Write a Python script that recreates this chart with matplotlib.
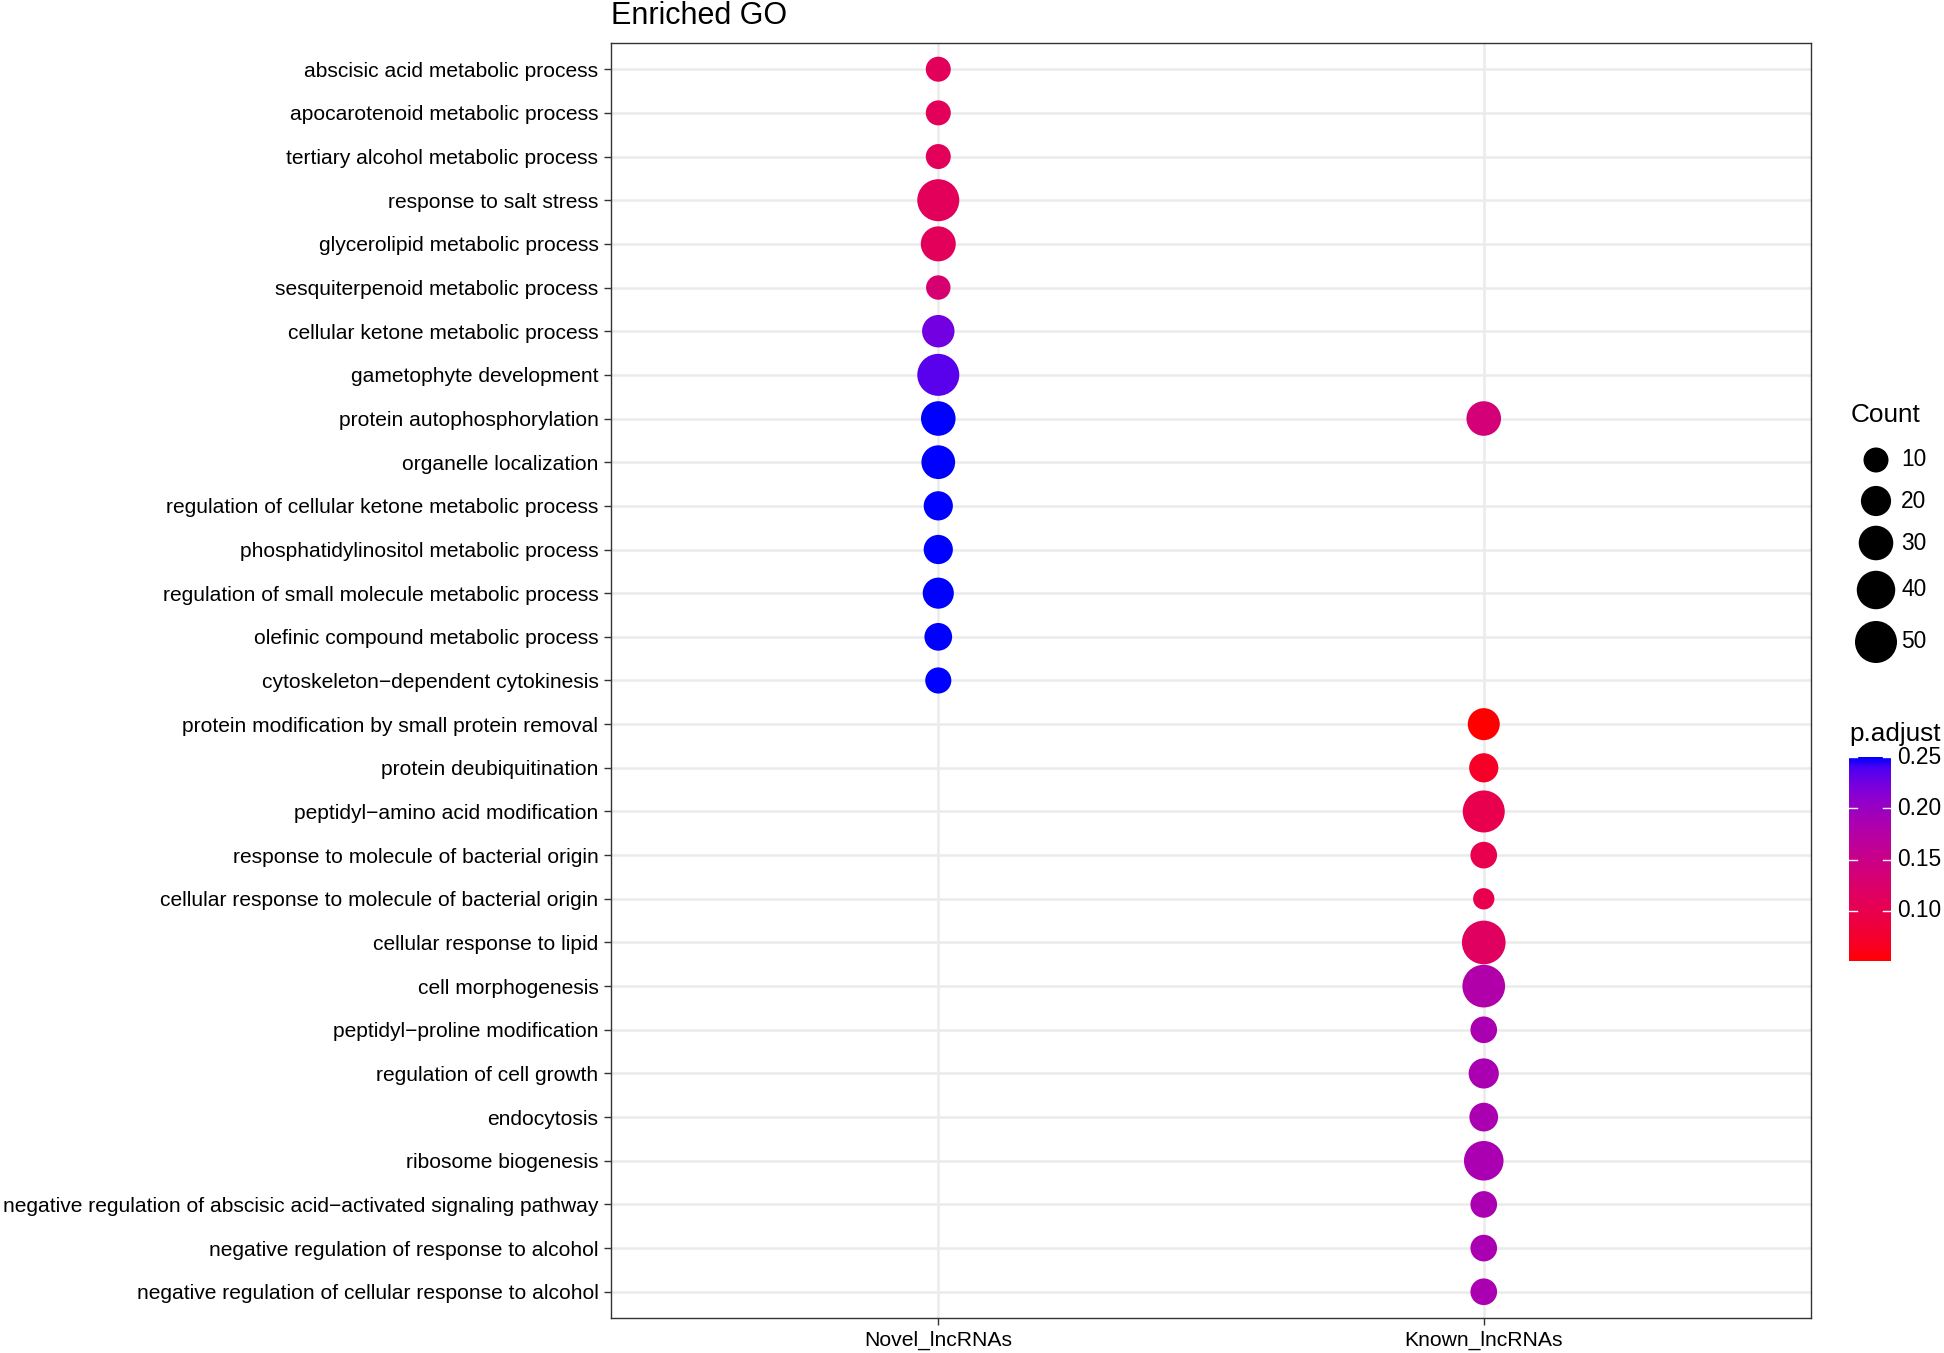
import numpy as np
import matplotlib.pyplot as plt
from matplotlib.colors import LinearSegmentedColormap, Normalize

plt.rcParams['font.family'] = ['Liberation Sans', 'DejaVu Sans']

terms = [
    'abscisic acid metabolic process',
    'apocarotenoid metabolic process',
    'tertiary alcohol metabolic process',
    'response to salt stress',
    'glycerolipid metabolic process',
    'sesquiterpenoid metabolic process',
    'cellular ketone metabolic process',
    'gametophyte development',
    'protein autophosphorylation',
    'organelle localization',
    'regulation of cellular ketone metabolic process',
    'phosphatidylinositol metabolic process',
    'regulation of small molecule metabolic process',
    'olefinic compound metabolic process',
    'cytoskeleton\u2212dependent cytokinesis',
    'protein modification by small protein removal',
    'protein deubiquitination',
    'peptidyl\u2212amino acid modification',
    'response to molecule of bacterial origin',
    'cellular response to molecule of bacterial origin',
    'cellular response to lipid',
    'cell morphogenesis',
    'peptidyl\u2212proline modification',
    'regulation of cell growth',
    'endocytosis',
    'ribosome biogenesis',
    'negative regulation of abscisic acid\u2212activated signaling pathway',
    'negative regulation of response to alcohol',
    'negative regulation of cellular response to alcohol',
]
groups = ['Novel_lncRNAs', 'Known_lncRNAs']

# Novel_lncRNAs: term index, Count, p.adjust
novel_terms = list(range(15))
novel_count = [10, 10, 10, 50, 31, 9, 25, 50, 30, 28, 18, 18, 22, 15, 12]
novel_padj = [0.11, 0.11, 0.11, 0.11, 0.11, 0.13, 0.225, 0.235,
              0.25, 0.25, 0.25, 0.25, 0.25, 0.25, 0.25]

# Known_lncRNAs
known_terms = [8] + list(range(15, 29))
known_count = [30, 24, 18, 50, 13, 4, 55, 52, 13, 20, 17, 43, 13, 13, 13]
known_padj = [0.135, 0.051, 0.07, 0.10, 0.10, 0.10, 0.115, 0.18,
              0.185, 0.185, 0.185, 0.185, 0.185, 0.185, 0.185]

legend_counts = [10, 20, 30, 40, 50]
cbar_ticks = [0.10, 0.15, 0.20, 0.25]


def lab_to_rgb(L, a, b):
    fy = (L + 16) / 116
    fx = fy + a / 500
    fz = fy - b / 200

    def finv(t):
        return t ** 3 if t > 6 / 29 else 3 * (6 / 29) ** 2 * (t - 4 / 29)
    xyz = np.array([0.95047 * finv(fx), finv(fy), 1.08883 * finv(fz)])
    m = np.array([[3.2406, -1.5372, -0.4986],
                  [-0.9689, 1.8758, 0.0415],
                  [0.0557, -0.2040, 1.0570]])
    lin = m @ xyz
    rgb = np.where(lin > 0.0031308, 1.055 * np.abs(lin) ** (1 / 2.4) - 0.055, 12.92 * lin)
    return np.clip(rgb, 0, 1)


# ggplot-style red -> blue gradient interpolated in Lab
red_lab = np.array([53.24, 80.09, 67.20])
blue_lab = np.array([32.30, 79.19, -107.86])
stops = [lab_to_rgb(*(red_lab + (blue_lab - red_lab) * f)) for f in np.linspace(0, 1, 21)]
cmap = LinearSegmentedColormap.from_list('rb', stops)
norm = Normalize(vmin=0.051, vmax=0.25)

px = 72 / 200  # points per pixel at dpi 200


def dot_size(c):
    d = np.sqrt(340 + 28.5 * np.asarray(c, dtype=float))
    return (d * px) ** 2


W, H = 1944, 1353
fig = plt.figure(figsize=(9.72, 6.765), dpi=200)
ax = fig.add_axes([0.3143, 0.0259, 0.6173, 0.9423])

n = len(terms)
yn = [n - 1 - i for i in novel_terms]
yk = [n - 1 - i for i in known_terms]
ax.scatter([0] * len(yn), yn, s=dot_size(novel_count), c=novel_padj, cmap=cmap, norm=norm,
           linewidths=0, zorder=3)
ax.scatter([1] * len(yk), yk, s=dot_size(known_count), c=known_padj, cmap=cmap, norm=norm,
           linewidths=0, zorder=3)

ax.set_xlim(-0.6, 1.6)
ax.set_ylim(-0.6, n - 0.4)
ax.set_xticks([0, 1])
ax.set_xticklabels(groups, fontsize=7.6)
ax.set_yticks(range(n))
ax.set_yticklabels(terms[::-1], fontsize=7.55)
ax.grid(True, color='#EBEBEB', linewidth=0.9, zorder=0)
ax.set_axisbelow(True)
for sp in ax.spines.values():
    sp.set_color('#333333')
    sp.set_linewidth(0.5)
ax.tick_params(length=2.5, width=0.5, color='#333333', pad=2)
fig.text(611 / W, 1 - 16 / H, 'Enriched GO', fontsize=11, va='center', ha='left')

# size legend
lax = fig.add_axes([0, 0, 1, 1], facecolor='none')
lax.set_xlim(0, W)
lax.set_ylim(H, 0)
lax.axis('off')
fig.text(1851 / W, 1 - 415 / H, 'Count', fontsize=9.4, va='center', ha='left')
leg_y = [460, 501, 543, 590, 642]
lax.scatter([1876] * 5, leg_y, s=dot_size(legend_counts), color='black', linewidths=0)
for c, y in zip(legend_counts, leg_y):
    lax.text(1901, y, str(c), fontsize=8.2, va='center', ha='left')

# colour bar
fig.text(1849 / W, 1 - 734 / H, 'p.adjust', fontsize=9.4, va='center', ha='left')
cax = fig.add_axes([1849 / W, 1 - 961 / H, 42 / W, 204 / H])
grad = np.linspace(norm.vmin, norm.vmax, 256).reshape(-1, 1)
cax.imshow(grad, aspect='auto', cmap=cmap, norm=norm, origin='lower',
           extent=[0, 1, norm.vmin, norm.vmax])
cax.set_xlim(0, 1)
cax.set_xticks([])
cax.set_yticks([])
for sp in cax.spines.values():
    sp.set_visible(False)
for t in cbar_ticks:
    cax.plot([0, 0.2], [t, t], color='white', lw=0.5)
    cax.plot([0.8, 1], [t, t], color='white', lw=0.5)
    cax.text(1.15, t, f'{t:.2f}', transform=cax.get_yaxis_transform(), fontsize=8.2,
             va='center', ha='left')

fig.savefig('out.png', dpi=200)
